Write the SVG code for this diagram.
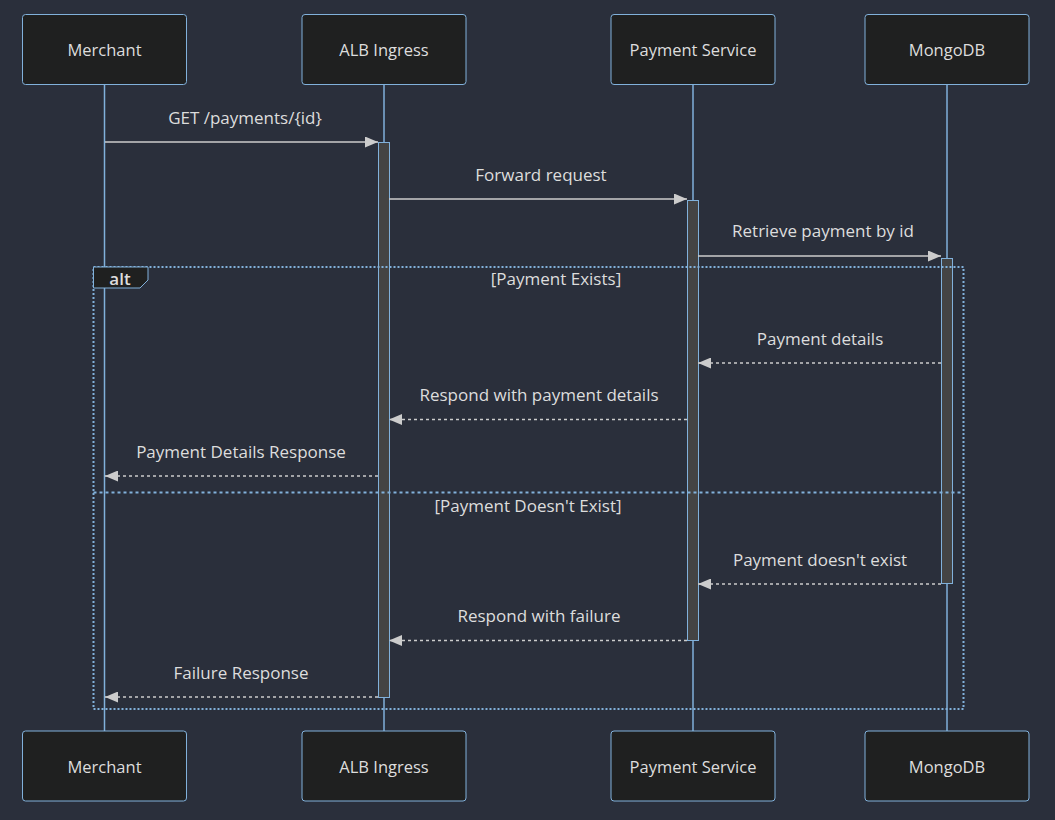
<svg xmlns="http://www.w3.org/2000/svg" width="1055" height="820" viewBox="0 0 1055 820">
<style>
.actor{fill:#1f2020;stroke:#81b1db;stroke-width:1}
.atext{fill:#ddd;font-family:"Open Sans","Liberation Sans",Arial,sans-serif;font-size:16.5px;font-weight:500;text-anchor:middle;dominant-baseline:central}
.life{stroke:#81b1db;stroke-width:1.5}
.act{fill:#444;stroke:#81b1db;stroke-width:1}
.msg{stroke:#ccc;stroke-width:1.5;fill:none}
.dash{stroke-dasharray:3,3}
.mtext{fill:#ddd;font-family:"Open Sans","Liberation Sans",Arial,sans-serif;font-size:17px;font-weight:500;text-anchor:middle}
.loop{stroke:#81b1db;stroke-width:2;stroke-dasharray:2,2;fill:none}
.sep{stroke:#81b1db;stroke-width:2;stroke-dasharray:3,3}
</style>
<defs>
<marker id="ah" viewBox="0 0 13 11" refX="13" refY="5.5" markerWidth="13" markerHeight="11" markerUnits="userSpaceOnUse" orient="auto">
<path d="M0,0 L13,5.5 L0,11 z" fill="#ccc"/>
</marker>
</defs>
<rect width="1055" height="820" fill="#2a2f3b"/>
<g id="lifelines">
<line class="life" x1="104.5" y1="84" x2="104.5" y2="731"/>
<line class="life" x1="384" y1="84" x2="384" y2="731"/>
<line class="life" x1="693" y1="84" x2="693" y2="731"/>
<line class="life" x1="947" y1="84" x2="947" y2="731"/>
</g>
<g id="activations">
<rect class="act" x="378.5" y="142.5" width="11" height="555"/>
<rect class="act" x="687.5" y="200.5" width="11" height="440"/>
<rect class="act" x="941.5" y="258.5" width="11" height="325"/>
</g>
<g id="actor-merchant-top"><rect class="actor" x="22.5" y="14.5" width="164" height="70" rx="3"/><text class="atext" x="104.5" y="49.5">Merchant</text></g>
<g id="actor-alb-top"><rect class="actor" x="302" y="14.5" width="164" height="70" rx="3"/><text class="atext" x="384" y="49.5">ALB Ingress</text></g>
<g id="actor-payment-top"><rect class="actor" x="611" y="14.5" width="164" height="70" rx="3"/><text class="atext" x="693" y="49.5">Payment Service</text></g>
<g id="actor-mongo-top"><rect class="actor" x="865" y="14.5" width="164" height="70" rx="3"/><text class="atext" x="947" y="49.5">MongoDB</text></g>
<g id="actor-merchant-bottom"><rect class="actor" x="22.5" y="731" width="164" height="70" rx="3"/><text class="atext" x="104.5" y="766">Merchant</text></g>
<g id="actor-alb-bottom"><rect class="actor" x="302" y="731" width="164" height="70" rx="3"/><text class="atext" x="384" y="766">ALB Ingress</text></g>
<g id="actor-payment-bottom"><rect class="actor" x="611" y="731" width="164" height="70" rx="3"/><text class="atext" x="693" y="766">Payment Service</text></g>
<g id="actor-mongo-bottom"><rect class="actor" x="865" y="731" width="164" height="70" rx="3"/><text class="atext" x="947" y="766">MongoDB</text></g>
<g id="alt-frame">
<rect class="loop" x="93.5" y="267" width="870" height="442"/>
<path d="M93.5,267 L148,267 L148,280 L140,288 L93.5,288 Z" fill="#1f2020" stroke="#81b1db" stroke-width="1"/>
<text class="mtext" x="120" y="285" style="font-weight:600">alt</text>
<text class="mtext" x="556" y="285">[Payment Exists]</text>
<line class="sep" x1="93.5" y1="492.5" x2="963.5" y2="492.5"/>
<text class="mtext" x="528" y="512">[Payment Doesn't Exist]</text>
</g>
<g id="connectors">
<line class="msg" x1="105" y1="142" x2="378" y2="142" marker-end="url(#ah)"/>
<text class="mtext" x="245" y="124">GET /payments/{id}</text>
<line class="msg" x1="389" y1="199" x2="687" y2="199" marker-end="url(#ah)"/>
<text class="mtext" x="541" y="181">Forward request</text>
<line class="msg" x1="698" y1="256" x2="941" y2="256" marker-end="url(#ah)"/>
<text class="mtext" x="823" y="237">Retrieve payment by id</text>
<line class="msg dash" x1="941" y1="363" x2="698" y2="363" marker-end="url(#ah)"/>
<text class="mtext" x="820" y="345">Payment details</text>
<line class="msg dash" x1="687" y1="419.5" x2="389" y2="419.5" marker-end="url(#ah)"/>
<text class="mtext" x="539" y="401">Respond with payment details</text>
<line class="msg dash" x1="378" y1="476" x2="105" y2="476" marker-end="url(#ah)"/>
<text class="mtext" x="241" y="458">Payment Details Response</text>
<line class="msg dash" x1="941" y1="584" x2="698" y2="584" marker-end="url(#ah)"/>
<text class="mtext" x="820" y="566">Payment doesn't exist</text>
<line class="msg dash" x1="687" y1="640.5" x2="389" y2="640.5" marker-end="url(#ah)"/>
<text class="mtext" x="539" y="622">Respond with failure</text>
<line class="msg dash" x1="378" y1="697" x2="105" y2="697" marker-end="url(#ah)"/>
<text class="mtext" x="241" y="679">Failure Response</text>
</g>
</svg>
